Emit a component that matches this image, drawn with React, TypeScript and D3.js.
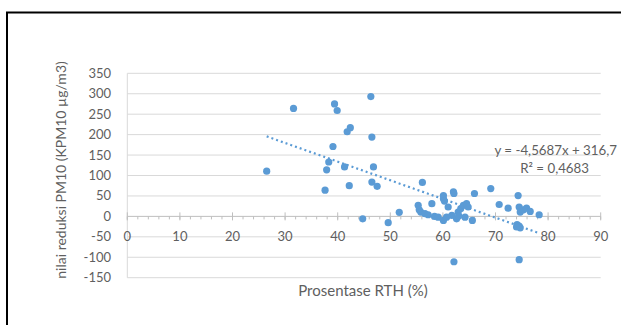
import React from "react";
import * as d3 from "d3";

const xValues = [
  26.5, 31.6, 39.4, 39.9, 46.3, 41.8, 42.4, 46.5, 39.1, 38.3, 37.9, 41.3, 46.8, 37.6, 42.2, 46.5, 47.5,
  44.75, 49.6, 51.7, 56.1, 55.3, 55.5, 55.8, 56.6, 57.2, 57.9, 58.4, 59.1, 60.1, 60.1, 60.3, 61.0, 60.1,
  60.7, 62.0, 61.7, 62.6, 62.9, 63.4, 63.9, 64.5, 64.8, 64.2, 65.6, 66.0, 62.1, 69.1, 70.7, 72.4, 74.3,
  74.5, 74.7, 75.3, 75.9, 76.6, 78.3, 74.1, 74.5, 74.0, 74.7, 74.5, 62.1, 63.0,
];
const yValues = [
  110.7, 264, 275, 259, 293, 207, 217, 194, 171, 133, 114, 121, 121, 64, 75, 84, 73.5,
  -6, -15.5, 10, 83, 27, 16, 10.5, 6.5, 4, 31, 0, -2, 51, 43, 37.5, 23, -10,
  -2, 60, 2.5, -6, 10.5, 19, 27, 31, 23, -2, -10, 56, 56, 68, 29, 20, 51,
  23, 10.5, 16, 20, 12, 4, -20, -24, -26, -28, -106, -111, 1,
];
const xTicks = [0, 10, 20, 30, 40, 50, 60, 70, 80, 90];
const yTicks = [350, 300, 250, 200, 150, 100, 50, 0, -50, -100, -150];
const trendSlope = -4.5687;
const trendIntercept = 316.7;
const trendRange = [26.5, 78];

export default function App() {
  const x = d3.scaleLinear().domain([0, 90]).range([127.3, 600.7]);
  const y = d3.scaleLinear().domain([-150, 350]).range([277.7, 73.3]);
  const font = "Lato, 'Open Sans', sans-serif";
  const txt = "#5f5f5f";
  const minor = d3.range(0, 90.01, 2);
  const trendLine = d3
    .line<number>()
    .x((d) => x(d))
    .y((d) => y(trendIntercept + trendSlope * d));
  return (
    <svg
      width={621}
      height={325}
      style={{ position: "absolute", left: 0, top: 0, background: "#fff" }}
      fontFamily={font}
    >
      <rect x={0} y={0} width={621} height={325} fill="#fff" />
      <rect x={7} y={12.5} width={650} height={340} fill="none" stroke="#000" strokeWidth={2} />
      {yTicks.map((t) => (
        <line
          key={"g" + t}
          x1={x(0)}
          x2={x(90)}
          y1={y(t)}
          y2={y(t)}
          stroke={t === 0 ? "#bfbfbf" : "#d9d9d9"}
          strokeWidth={1}
        />
      ))}
      <line x1={x(0)} x2={x(0)} y1={y(350)} y2={y(-150)} stroke="#d9d9d9" />
      {minor.map((t) => (
        <line key={"m" + t} x1={x(t)} x2={x(t)} y1={y(0)} y2={y(0) + 3} stroke="#bfbfbf" />
      ))}
      {xTicks.map((t) => (
        <line key={"t" + t} x1={x(t)} x2={x(t)} y1={y(0) - 4} y2={y(0) + 4} stroke="#bfbfbf" />
      ))}
      {yTicks.map((t) => (
        <text key={"yl" + t} x={111} y={y(t)} dy="0.35em" textAnchor="end" fontSize={13} fill={txt}>
          {t}
        </text>
      ))}
      {xTicks.map((t) => (
        <text key={"xl" + t} x={x(t)} y={y(-50)} dy="0.35em" textAnchor="middle" fontSize={13} fill={txt}>
          {t}
        </text>
      ))}
      <path d={trendLine(trendRange) || ""} fill="none" stroke="#5b9bd5" strokeWidth={2.2} strokeDasharray="2 3" />
      {xValues.map((v, i) => (
        <circle key={"p" + i} cx={x(v)} cy={y(yValues[i])} r={3.6} fill="#5b9bd5" />
      ))}
      <text x={617} y={150} dy="0.35em" textAnchor="end" fontSize={13.3} fill={txt}>
        y = -4,5687x + 316,7
      </text>
      <text x={589} y={168} dy="0.35em" textAnchor="end" fontSize={13.3} fill={txt}>
        R² = 0,4683
      </text>
      <text x={363} y={291} dy="0.35em" textAnchor="middle" fontSize={15} fill={txt}>
        Prosentase RTH (%)
      </text>
      <text
        transform={`translate(61,170) rotate(-90)`}
        dy="0.35em"
        textAnchor="middle"
        fontSize={14}
        fill={txt}
      >
        nilai reduksi PM10 (KPM10 µg/m3)
      </text>
    </svg>
  );
}
